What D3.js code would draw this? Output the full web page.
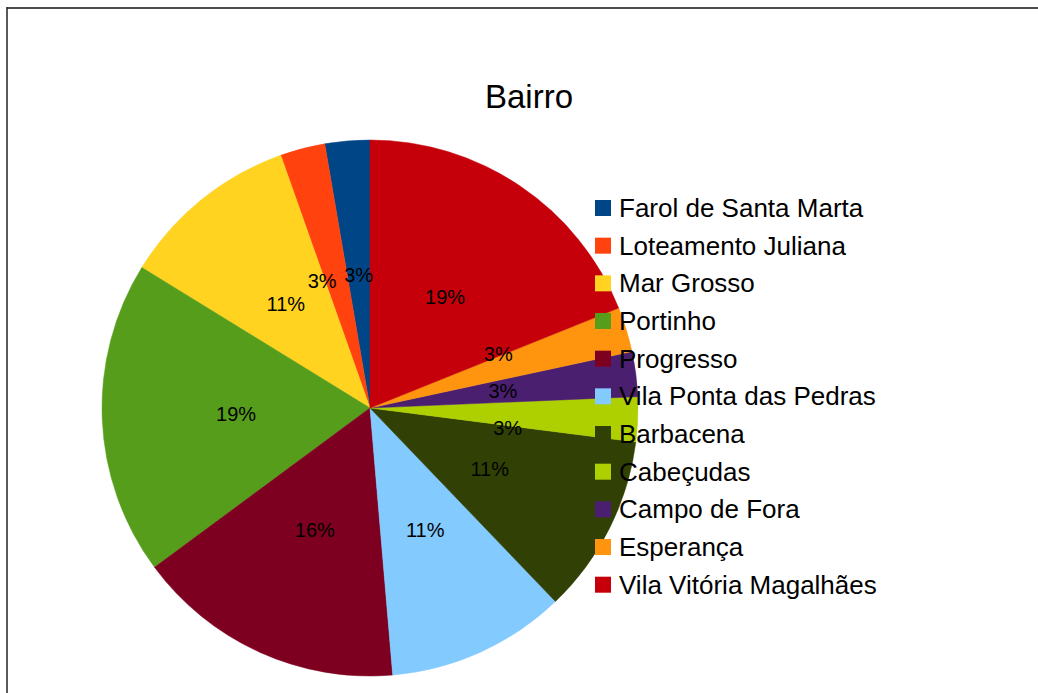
<!DOCTYPE html>
<html>
<head>
<meta charset="utf-8">
<script src="https://cdn.jsdelivr.net/npm/d3@7"></script>
<style>
  body { margin: 0; background: #fff; }
  svg { display: block; font-family: "Liberation Sans", Arial, sans-serif; }
</style>
</head>
<body>
<script>
let width = 1038,
    height = 693;

// data (counts, order of the legend)
let bairros = ["Farol de Santa Marta", "Loteamento Juliana", "Mar Grosso", "Portinho", "Progresso",
               "Vila Ponta das Pedras", "Barbacena", "Cabeçudas", "Campo de Fora", "Esperança",
               "Vila Vitória Magalhães"];
let contagens = [1, 1, 4, 7, 6, 4, 4, 1, 1, 1, 7];
let cores = ["#004586", "#ff420e", "#ffd320", "#579d1c", "#7e0021", "#83caff",
             "#314004", "#aecf00", "#4b1f6f", "#ff950e", "#c5000b"];

let cx = 370, cy = 408, radius = 268;

let svg = d3.select("body").append("svg")
    .attr("width", width)
    .attr("height", height);

// frame of the chart area
svg.append("line")
    .attr("x1", 7).attr("x2", width).attr("y1", 8).attr("y2", 8)
    .attr("stroke", "#4d4d4d").attr("stroke-width", 2);
svg.append("line")
    .attr("x1", 7).attr("x2", 7).attr("y1", 7).attr("y2", height)
    .attr("stroke", "#222").attr("stroke-width", 1.5);

svg.append("text")
    .attr("x", 529)
    .attr("y", 108)
    .attr("text-anchor", "middle")
    .style("font-size", "33px")
    .text("Bairro");

let data = bairros.map((b, i) => ({ name: b, value: contagens[i], color: cores[i] }));
let total = d3.sum(contagens);

// counter-clockwise from 12 o'clock
let pie = d3.pie()
    .sort(null)
    .value(d => d.value)
    .startAngle(0)
    .endAngle(-2 * Math.PI);

let arc = d3.arc().innerRadius(0).outerRadius(radius);
let labelArc = d3.arc().innerRadius(radius * 0.5).outerRadius(radius * 0.5);

let g = svg.append("g").attr("transform", "translate(" + cx + "," + cy + ")");

let slices = pie(data);

g.selectAll(".slice")
  .data(slices)
  .enter().append("path")
    .attr("class", "slice")
    .attr("d", arc)
    .attr("fill", d => d.data.color)
    .attr("stroke", d => d.data.color)
    .attr("stroke-width", 0.5);

let labels = g.selectAll(".lbl")
  .data(slices)
  .enter().append("text")
    .attr("class", "lbl")
    .attr("text-anchor", "middle")
    .attr("dy", "0.36em")
    .style("font-size", "20px")
    .text(d => Math.round(d.data.value / total * 100) + "%");

// label positions: centroid, then spread chains of neighbours that collide
let pos = slices.map(d => labelArc.centroid(d));
let boxW = [];
labels.each(function(d, i) { boxW[i] = this.getComputedTextLength(); });
let boxH = 24, pad = 4, gap = 37;

let collide = function(i, j) {
  return Math.abs(pos[i][0] - pos[j][0]) < (boxW[i] + boxW[j]) / 2 + pad &&
         Math.abs(pos[i][1] - pos[j][1]) < boxH + pad;
};

let chains = [], cur = [0];
for (let i = 1; i < slices.length; i++) {
  if (collide(i - 1, i)) cur.push(i);
  else { chains.push(cur); cur = [i]; }
}
chains.push(cur);

chains.filter(c => c.length > 1).forEach(function(c) {
  let ang = d3.mean(c, i => (slices[i].startAngle + slices[i].endAngle) / 2);
  let tx = Math.cos(ang), ty = Math.sin(ang);
  let a = Math.floor((c.length - 1) / 2);
  let anchor = pos[c[a]].slice();
  c.forEach(function(i, k) {
    let off = (k - a) * gap;
    pos[i] = [anchor[0] - tx * off, anchor[1] - ty * off];
  });
});

labels.attr("transform", (d, i) => "translate(" + pos[i] + ")");

// legend
let legend = svg.append("g").attr("transform", "translate(595,200)");
let step = 37.67;

let items = legend.selectAll(".item")
  .data(data)
  .enter().append("g")
    .attr("class", "item")
    .attr("transform", (d, i) => "translate(0," + (i * step) + ")");

items.append("rect")
    .attr("width", 16).attr("height", 16)
    .attr("fill", d => d.color);

items.append("text")
    .attr("x", 24)
    .attr("y", 17)
    .style("font-size", "26px")
    .text(d => d.name);
</script>
</body>
</html>
